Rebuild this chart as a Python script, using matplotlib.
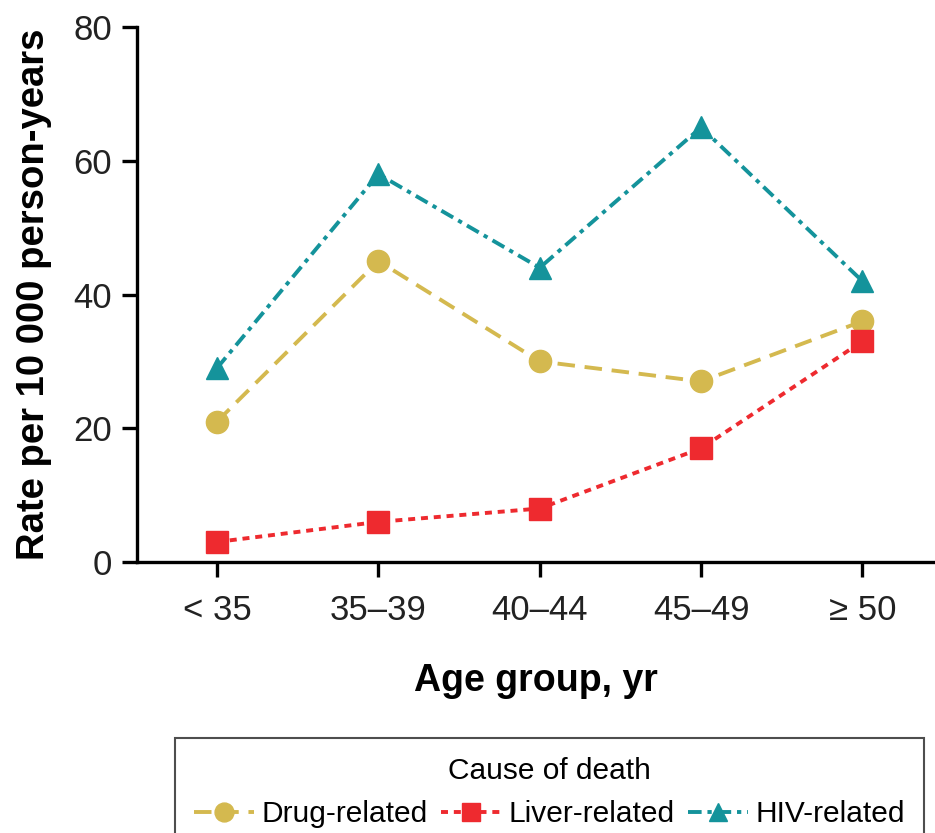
import numpy as np
import matplotlib.pyplot as plt

plt.rcParams['font.family'] = ['Liberation Sans', 'DejaVu Sans']

# data
age_groups = ['< 35', '35\u201339', '40\u201344', '45\u201349', '\u2265 50']
drug = [21, 45, 30, 27, 36]
liver = [3, 6, 8, 17, 33]
hiv = [29, 58, 44, 65, 42]

c_drug = '#D4B94F'
c_liver = '#EE2A2F'
c_hiv = '#14939B'

fig = plt.figure(figsize=(9.35, 8.33), dpi=100)
ax = fig.add_axes([137/935, 1 - 562/833, 1 - 137/935, (562 - 27)/833])

x = np.arange(len(age_groups))
ax.plot(x, drug, color=c_drug, lw=2.8, ls=(0, (4.5, 2.5)), marker='o', ms=16,
        label='Drug-related')
ax.plot(x, liver, color=c_liver, lw=2.8, ls=(0, (1.8, 1.5)), marker='s', ms=16,
        label='Liver-related')
ax.plot(x, hiv, color=c_hiv, lw=2.8, ls=(0, (3.5, 1.5, 1.1, 1.5)), marker='^', ms=16,
        label='HIV-related')

ax.set_xlim(-0.496, 4.45)
ax.set_ylim(0, 80)
ax.set_yticks([0, 20, 40, 60, 80])
ax.set_xticks(x)
ax.set_xticklabels(age_groups)

for s in ['top', 'right']:
    ax.spines[s].set_visible(False)
for s in ['left', 'bottom']:
    ax.spines[s].set_linewidth(2.4)
ax.tick_params(axis='both', width=2.4, length=11, labelsize=25, colors='black',
               labelcolor='#222222')
ax.tick_params(axis='x', pad=12)
ax.tick_params(axis='y', pad=7)

ax.set_xlabel('Age group, yr', fontsize=27, fontweight='bold', labelpad=26)
ax.set_ylabel('Rate per 10 000 person-years', fontsize=27.5, fontweight='bold', labelpad=15)

leg = fig.legend(loc='upper left', bbox_to_anchor=(175/935, 1 - 738/833), ncol=3,
                 title='Cause of death', fontsize=21.5, title_fontsize=21.5,
                 frameon=True, fancybox=False, edgecolor='#222222',
                 handlelength=2.0, handletextpad=0.25, columnspacing=0.45,
                 borderpad=0.65, borderaxespad=0, markerscale=0.85)
leg.get_frame().set_linewidth(1.5)

fig.savefig('out.png', dpi=100)
